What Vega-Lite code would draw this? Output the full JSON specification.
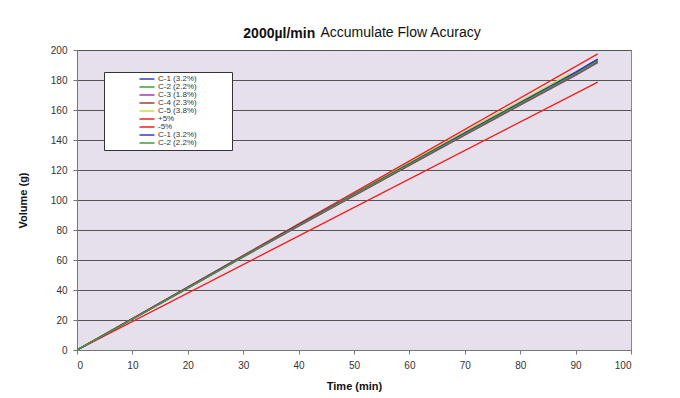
{
  "$schema": "https://vega.github.io/schema/vega-lite/v6.json",
  "width": 554,
  "height": 300,
  "autosize": "none",
  "padding": {"left": 77, "top": 50, "right": 49, "bottom": 48},
  "background": "white",
  "title": {"text": "2000µl/min", "font": "Liberation Sans", "fontSize": 14, "fontWeight": "bold", "color": "#111", "anchor": "start", "dx": 226, "offset": -16},
  "config": {
    "view": {"fill": "#e6e0ec", "stroke": "#888", "strokeWidth": 1},
    "font": "Liberation Sans"
  },
  "data": {"values": [
    {"t":0,"v":0,"s":"C-1 (3.2%)"},{"t":10,"v":20.8,"s":"C-1 (3.2%)"},{"t":20,"v":41.8,"s":"C-1 (3.2%)"},{"t":30,"v":62.8,"s":"C-1 (3.2%)"},{"t":40,"v":83.6,"s":"C-1 (3.2%)"},{"t":50,"v":104,"s":"C-1 (3.2%)"},{"t":60,"v":124.5,"s":"C-1 (3.2%)"},{"t":70,"v":145,"s":"C-1 (3.2%)"},{"t":80,"v":165,"s":"C-1 (3.2%)"},{"t":90,"v":185.2,"s":"C-1 (3.2%)"},{"t":94,"v":194,"s":"C-1 (3.2%)"},
    {"t":0,"v":0,"s":"C-2 (2.2%)"},{"t":10,"v":20.7,"s":"C-2 (2.2%)"},{"t":20,"v":41.5,"s":"C-2 (2.2%)"},{"t":30,"v":62.4,"s":"C-2 (2.2%)"},{"t":40,"v":83.2,"s":"C-2 (2.2%)"},{"t":50,"v":103.5,"s":"C-2 (2.2%)"},{"t":60,"v":123.8,"s":"C-2 (2.2%)"},{"t":70,"v":144.2,"s":"C-2 (2.2%)"},{"t":80,"v":164.3,"s":"C-2 (2.2%)"},{"t":90,"v":184.2,"s":"C-2 (2.2%)"},{"t":94,"v":192.8,"s":"C-2 (2.2%)"},
    {"t":0,"v":0,"s":"C-3 (1.8%)"},{"t":10,"v":20.5,"s":"C-3 (1.8%)"},{"t":20,"v":41.2,"s":"C-3 (1.8%)"},{"t":30,"v":62,"s":"C-3 (1.8%)"},{"t":40,"v":82.6,"s":"C-3 (1.8%)"},{"t":50,"v":102.8,"s":"C-3 (1.8%)"},{"t":60,"v":123,"s":"C-3 (1.8%)"},{"t":70,"v":143.2,"s":"C-3 (1.8%)"},{"t":80,"v":163.2,"s":"C-3 (1.8%)"},{"t":90,"v":183,"s":"C-3 (1.8%)"},{"t":94,"v":191.5,"s":"C-3 (1.8%)"},
    {"t":0,"v":0,"s":"C-4 (2.3%)"},{"t":10,"v":20.6,"s":"C-4 (2.3%)"},{"t":20,"v":41.3,"s":"C-4 (2.3%)"},{"t":30,"v":62.1,"s":"C-4 (2.3%)"},{"t":40,"v":82.8,"s":"C-4 (2.3%)"},{"t":50,"v":103,"s":"C-4 (2.3%)"},{"t":60,"v":123.3,"s":"C-4 (2.3%)"},{"t":70,"v":143.5,"s":"C-4 (2.3%)"},{"t":80,"v":163.6,"s":"C-4 (2.3%)"},{"t":90,"v":183.5,"s":"C-4 (2.3%)"},{"t":94,"v":192.1,"s":"C-4 (2.3%)"},
    {"t":0,"v":0,"s":"C-5 (3.8%)"},{"t":10,"v":20.9,"s":"C-5 (3.8%)"},{"t":20,"v":42,"s":"C-5 (3.8%)"},{"t":30,"v":63,"s":"C-5 (3.8%)"},{"t":40,"v":84,"s":"C-5 (3.8%)"},{"t":50,"v":104.6,"s":"C-5 (3.8%)"},{"t":60,"v":125.2,"s":"C-5 (3.8%)"},{"t":70,"v":145.6,"s":"C-5 (3.8%)"},{"t":80,"v":165.8,"s":"C-5 (3.8%)"},{"t":89,"v":184.2,"s":"C-5 (3.8%)"},
    {"t":0,"v":0,"s":"+5%"},{"t":94,"v":197.4,"s":"+5%"},
    {"t":0,"v":0,"s":"-5%"},{"t":94,"v":178.6,"s":"-5%"},
    {"t":0,"v":0,"s":"C-1 (3.2%) "},{"t":10,"v":20.8,"s":"C-1 (3.2%) "},{"t":20,"v":41.7,"s":"C-1 (3.2%) "},{"t":30,"v":62.6,"s":"C-1 (3.2%) "},{"t":40,"v":83.4,"s":"C-1 (3.2%) "},{"t":50,"v":103.8,"s":"C-1 (3.2%) "},{"t":60,"v":124.3,"s":"C-1 (3.2%) "},{"t":70,"v":144.8,"s":"C-1 (3.2%) "},{"t":80,"v":164.9,"s":"C-1 (3.2%) "},{"t":90,"v":185,"s":"C-1 (3.2%) "},{"t":94,"v":193.8,"s":"C-1 (3.2%) "},
    {"t":0,"v":0,"s":"C-2 (2.2%) "},{"t":10,"v":20.6,"s":"C-2 (2.2%) "},{"t":20,"v":41.4,"s":"C-2 (2.2%) "},{"t":30,"v":62.3,"s":"C-2 (2.2%) "},{"t":40,"v":83,"s":"C-2 (2.2%) "},{"t":50,"v":103.4,"s":"C-2 (2.2%) "},{"t":60,"v":123.7,"s":"C-2 (2.2%) "},{"t":70,"v":144,"s":"C-2 (2.2%) "},{"t":80,"v":164.1,"s":"C-2 (2.2%) "},{"t":90,"v":184,"s":"C-2 (2.2%) "},{"t":94,"v":192.5,"s":"C-2 (2.2%) "}
  ]},
  "layer": [
    {
      "mark": {"type": "line", "strokeWidth": 1.4, "clip": true},
      "encoding": {
        "x": {"field": "t", "type": "quantitative", "scale": {"domain": [0, 100], "nice": false},
          "axis": {"orient": "bottom", "title": "Time (min)", "values": [0,10,20,30,40,50,60,70,80,90,100], "grid": false, "domainColor": "#777", "tickColor": "#777", "tickSize": 4, "labelFontSize": 10, "labelColor": "#333", "labelPadding": 6, "titleFontSize": 11, "titleFontWeight": "bold", "titleColor": "#111", "titlePadding": 10}},
        "y": {"field": "v", "type": "quantitative", "scale": {"domain": [0, 200], "nice": false},
          "axis": {"title": "Volume (g)", "values": [0,20,40,60,80,100,120,140,160,180,200], "grid": true, "gridColor": "#555", "gridWidth": 1, "domainColor": "#777", "tickColor": "#777", "tickSize": 4, "labelFontSize": 10, "labelColor": "#333", "labelPadding": 6, "titleFontSize": 11, "titleFontWeight": "bold", "titleColor": "#111", "titlePadding": 22}},
        "color": {"field": "s", "type": "nominal", "sort": null,
          "scale": {"domain": ["C-1 (3.2%)","C-2 (2.2%)","C-3 (1.8%)","C-4 (2.3%)","C-5 (3.8%)","+5%","-5%","C-1 (3.2%) ","C-2 (2.2%) "],
            "range": ["#3a3ab8","#3c9c3c","#9c3cb0","#9c3c3c","#c8dc3c","#ee2020","#ee2020","#3a3ab8","#3c9c3c"]},
          "legend": {"title": null, "orient": "none", "legendX": 27, "legendY": 22, "fillColor": "white", "strokeColor": "#333", "padding": 3, "symbolType": "M-2.5,0H2.5", "symbolSize": 36, "symbolStrokeWidth": 1.5, "symbolOffset": 36, "labelFontSize": 8, "labelColor": "#333", "rowPadding": -1, "labelOffset": 7, "labelLimit": 200, "labelExpr": "datum.label + '\u2800\u2800\u2800\u2800\u2800'"}}
      }
    },
    {
      "mark": {"type": "rule", "opacity": 0},
      "encoding": {
        "x": {"datum": 0, "type": "quantitative",
          "axis": {"orient": "top", "title": "Accumulate Flow Acuracy", "labels": false, "ticks": false, "domain": false, "grid": false, "titleFont": "Liberation Sans", "titleFontSize": 14, "titleFontWeight": "normal", "titleColor": "#111", "titleAnchor": "start", "titleAlign": "left", "titleX": 243, "titleY": -14, "titleBaseline": "alphabetic"}}
      }
    }
  ],
  "resolve": {"axis": {"x": "independent"}}
}
